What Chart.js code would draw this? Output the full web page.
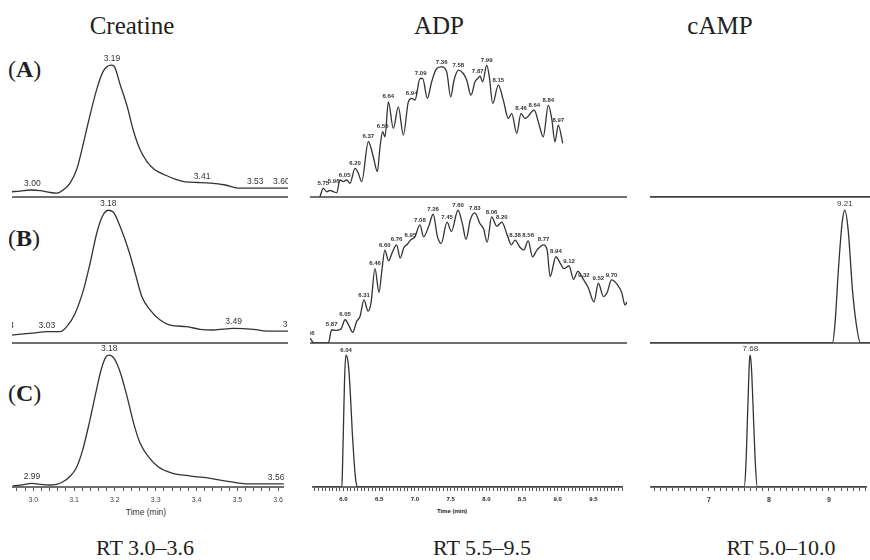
<!DOCTYPE html>
<html>
<head>
<meta charset="utf-8">
<script src="https://cdn.jsdelivr.net/npm/chart.js@4.4.1/dist/chart.umd.min.js"></script>
<style>
body { margin: 0; background: #fff; }
#fig { position: relative; width: 870px; height: 560px; overflow: hidden; background: #fff;
       font-family: "Liberation Serif", "Times New Roman", serif; color: #231f20; }
.panel { position: absolute; }
.txt { position: absolute; white-space: nowrap; line-height: 1; transform: translate(-50%, -50%); }
.head { font-size: 25px; }
.row { font-size: 24px; transform: translate(0, -50%); }
.rt { font-size: 22px; }
.axt { font-family: "Liberation Sans", Arial, sans-serif; font-size: 8.5px; color: #333; }
.axt.b { font-size: 6px; font-weight: bold; color: #222; }
</style>
</head>
<body>
<div id="fig">
  <div class="txt head" style="left:132px; top:25px;">Creatine</div>
  <div class="txt head" style="left:439px; top:25px;">ADP</div>
  <div class="txt head" style="left:720px; top:25px;">cAMP</div>

  <div class="txt row" style="left:8px; top:69px;">(<b>A</b>)</div>
  <div class="txt row" style="left:8px; top:238px;">(<b>B</b>)</div>
  <div class="txt row" style="left:8px; top:393px;">(<b>C</b>)</div>

  <div class="txt axt" style="left:146px; top:512px;">Time (min)</div>
  <div class="txt axt b" style="left:452px; top:511px;">Time (min)</div>

  <div class="txt rt" style="left:145px; top:548px;">RT 3.0–3.6</div>
  <div class="txt rt" style="left:482px; top:548px;">RT 5.5–9.5</div>
  <div class="txt rt" style="left:781px; top:548px;">RT 5.0–10.0</div>
</div>

<script>
// tick labels of the three time axes (min)
var creatineTicks = [3.0, 3.1, 3.2, 3.3, 3.4, 3.5, 3.6];
var adpTicks = [6.0, 6.5, 7.0, 7.5, 8.0, 8.5, 9.0, 9.5];
var campTicks = [7, 8, 9];

// traces: [time (min), relative intensity %]
var creatineA = [[2.949,4.0],[2.969,4.5],[2.993,5.3],[3.017,4.9],[3.041,3.4],[3.058,3.0],[3.072,5.3],
  [3.089,10.6],[3.106,22.0],[3.120,39.4],[3.137,62.1],[3.154,82.6],[3.169,95.5],[3.188,100],[3.195,99.2],
  [3.210,84.8],[3.227,68.2],[3.241,50.8],[3.258,35.6],[3.275,26.5],[3.294,20.5],[3.318,16.7],[3.342,13.6],
  [3.366,11.4],[3.398,11.0],[3.427,10.6],[3.463,9.1],[3.494,6.8],[3.523,6.8],[3.614,6.8]];
var creatineB = [[2.949,6.0],[2.977,6.8],[3.005,7.7],[3.033,8.5],[3.065,8.5],[3.081,12.3],[3.101,22.3],
  [3.121,39.8],[3.137,59.9],[3.153,82.5],[3.166,95.0],[3.181,100],[3.193,98.7],[3.210,87.4],[3.230,69.9],
  [3.246,52.4],[3.262,34.8],[3.282,24.8],[3.306,17.3],[3.330,13.5],[3.370,12.3],[3.402,10.3],[3.434,9.8],
  [3.483,11.0],[3.531,10.3],[3.563,9.0],[3.614,9.0]];
var creatineC = [[2.949,0.8],[2.969,1.5],[2.997,2.8],[3.017,2.0],[3.041,1.5],[3.057,2.0],[3.073,4.0],
  [3.089,7.8],[3.105,14.2],[3.121,28.0],[3.137,48.3],[3.153,71.0],[3.166,88.6],[3.178,98.7],[3.186,100],
  [3.198,97.5],[3.214,86.1],[3.230,68.4],[3.246,48.3],[3.262,33.1],[3.282,23.0],[3.306,15.4],[3.338,10.8],
  [3.386,8.3],[3.434,6.6],[3.482,4.0],[3.530,2.3],[3.614,2.3]];

var adpA = [[5.713,0.3],[5.758,6.6],[5.804,4.0],[5.850,5.0],[5.895,4.0],[5.941,3.3],[5.986,12.9],[6.032,11.6],
  [6.078,12.9],[6.123,10.4],[6.192,21.7],[6.237,18.0],[6.283,11.6],[6.374,41.9],[6.442,30.5],[6.497,19.2],
  [6.534,38.1],[6.570,49.5],[6.602,45.7],[6.648,72.2],[6.716,52.0],[6.784,68.4],[6.853,47.0],[6.921,72.2],
  [6.967,74.8],[7.012,73.5],[7.081,89.9],[7.117,89.9],[7.181,74.8],[7.240,87.4],[7.309,97.5],[7.377,98.7],
  [7.446,94.9],[7.500,76.0],[7.546,88.6],[7.605,96.2],[7.673,93.7],[7.720,88.6],[7.778,77.3],[7.833,87.4],
  [7.870,89.9],[7.902,91.7],[7.938,87.4],[7.993,100],[8.029,91.1],[8.075,71.0],[8.152,84.8],[8.220,73.5],
  [8.289,59.6],[8.335,63.4],[8.404,48.3],[8.462,63.4],[8.517,59.6],[8.644,65.9],[8.699,57.0],[8.767,45.7],
  [8.836,69.7],[8.882,59.6],[8.927,41.9],[8.972,54.5],[9.033,40.7]];
var adpB = [[5.576,3.7],[5.631,0],[5.827,0],[5.872,10],[5.940,9.5],[6.000,10.5],[6.055,17.5],[6.114,12.5],
  [6.160,8.0],[6.214,16.2],[6.260,20],[6.315,32.5],[6.370,24],[6.410,30],[6.465,56],[6.520,38],[6.560,55],
  [6.600,70],[6.650,62],[6.700,68],[6.760,74],[6.810,64],[6.860,72],[6.900,74],[6.950,77.5],[7.010,80],
  [7.080,89],[7.130,80],[7.200,88],[7.260,97],[7.320,80],[7.370,75],[7.450,91],[7.510,84],[7.600,100],
  [7.660,90],[7.710,78],[7.770,93],[7.830,98],[7.900,90],[7.950,86],[8.000,76],[8.060,95],[8.130,88],
  [8.200,91],[8.270,82],[8.330,74],[8.380,77.5],[8.450,72],[8.500,70],[8.560,77],[8.620,65],[8.680,70],
  [8.770,74],[8.820,70],[8.860,50],[8.940,65],[9.000,60],[9.050,56],[9.120,58],[9.180,48],[9.240,54],
  [9.320,47.5],[9.380,42],[9.460,31],[9.520,45],[9.590,35],[9.640,38],[9.700,47.5],[9.780,44],[9.840,38],
  [9.885,28.7],[9.912,31]];
var adpC = [[5.576,0],[5.977,0],[5.986,16],[6.000,48.6],[6.014,81],[6.032,100],[6.059,96.2],[6.078,86.2],
  [6.100,66],[6.123,41],[6.146,21],[6.169,6],[6.200,0],[9.912,0]];

var campA = [[6.037,0],[9.626,0]];
var campB = [[6.037,0],[9.012,0],[9.056,15],[9.110,55],[9.170,90],[9.215,100],[9.270,85],[9.340,40],
  [9.400,15],[9.470,0],[9.626,0]];
var campC = [[6.037,0],[7.587,0],[7.615,16],[7.648,61],[7.675,96],[7.690,100],[7.713,86],[7.745,49],
  [7.775,16],[7.805,0],[9.626,0]];

// peak retention-time labels: [time, intensity, text]
var creatineALabels = [[2.998,5.3,'3.00'],[3.190,100,'3.19'],[3.407,10.9,'3.41'],[3.535,6.8,'3.53'],[3.598,6.8,'3.60']];
var creatineBLabels = [[2.934,8,'2.94'],[3.033,8.5,'3.03'],[3.181,100,'3.18'],[3.483,11.0,'3.49'],[3.621,9.0,'3.62']];
var creatineCLabels = [[2.997,2.8,'2.99'],[3.186,100,'3.18'],[3.595,2.3,'3.56']];
var adpALabels = [[5.758,6.6,'5.75'],[5.900,8,'5.96'],[6.050,12.9,'6.05'],[6.192,21.7,'6.20'],[6.374,41.9,'6.37'],
  [6.570,49.5,'6.55'],[6.648,72.2,'6.64'],[6.967,74.8,'6.94'],[7.090,89.9,'7.09'],[7.377,98.7,'7.36'],
  [7.605,96.2,'7.58'],[7.870,91.7,'7.87'],[7.993,100,'7.99'],[8.152,84.8,'8.15'],[8.462,63.4,'8.46'],
  [8.644,65.9,'8.64'],[8.836,69.7,'8.84'],[8.972,54.5,'8.97']];
var adpBLabels = [[5.560,3.7,'5.56'],[5.872,10,'5.87'],[6.055,17.5,'6.05'],[6.315,32.5,'6.31'],[6.465,56,'6.46'],
  [6.600,70,'6.60'],[6.760,74,'6.76'],[6.950,77.5,'6.95'],[7.080,89,'7.08'],[7.260,97,'7.26'],[7.450,91,'7.45'],
  [7.600,100,'7.60'],[7.830,98,'7.83'],[8.060,95,'8.06'],[8.200,91,'8.20'],[8.380,77.5,'8.38'],[8.560,77,'8.56'],
  [8.770,74,'8.77'],[8.940,65,'8.94'],[9.120,58,'9.12'],[9.320,47.5,'9.32'],[9.520,45,'9.52'],[9.700,47.5,'9.70']];
var adpCLabels = [[6.035,100,'6.04']];
var campALabels = [];
var campBLabels = [[9.215,100,'9.21']];
var campCLabels = [[7.690,100,'7.68']];

var fig = document.getElementById('fig');
var sans = '"Liberation Sans", Arial, sans-serif';

function minorTicks(min, max, step) {
  var out = [];
  for (var k = Math.ceil(min / step - 1e-9); k * step <= max + 1e-9; k++) {
    out.push(Math.round(k * step * 1000) / 1000);
  }
  return out;
}

function labelPlugin(items, font) {
  return {
    id: 'peakLabels',
    afterDatasetsDraw: function(chart) {
      var ctx = chart.ctx, a = chart.chartArea;
      ctx.save();
      ctx.beginPath();
      ctx.rect(a.left, 0, a.right - a.left, chart.height);
      ctx.clip();
      ctx.font = font;
      ctx.fillStyle = '#333';
      ctx.textAlign = 'center';
      ctx.textBaseline = 'bottom';
      items.forEach(function(it) {
        var x = chart.scales.x.getPixelForValue(it[0]);
        var y = chart.scales.y.getPixelForValue(it[1]) - 2;
        ctx.fillText(it[2], x, y);
      });
      ctx.restore();
    }
  };
}

function panel(cfg) {
  var box = document.createElement('div');
  box.className = 'panel';
  box.style.left = cfg.left + 'px';
  box.style.top = cfg.top + 'px';
  box.style.width = cfg.width + 'px';
  box.style.height = cfg.height + 'px';
  var canvas = document.createElement('canvas');
  box.appendChild(canvas);
  fig.appendChild(box);
  var bottom = !!cfg.ticks;

  return new Chart(canvas, {
    type: 'line',
    data: {
      datasets: [{
        data: cfg.trace.map(function(p) { return { x: p[0], y: p[1] }; }),
        borderColor: '#333',
        borderWidth: 1.3,
        pointRadius: 0,
        fill: false,
        cubicInterpolationMode: 'monotone'
      }]
    },
    options: {
      responsive: true,
      maintainAspectRatio: false,
      animation: false,
      layout: { padding: { left: 0, right: 0, top: 0, bottom: bottom ? 0 : 3 } },
      plugins: { legend: { display: false }, tooltip: { enabled: false } },
      scales: {
        x: {
          type: 'linear',
          min: cfg.min,
          max: cfg.max,
          afterBuildTicks: function(s) {
            if (bottom) s.ticks = minorTicks(cfg.min, cfg.max, cfg.step).map(function(v) { return { value: v }; });
          },
          afterFit: function(s) { s.height = bottom ? 32 : 0; },
          ticks: {
            display: bottom,
            autoSkip: false,
            maxRotation: 0,
            padding: 5,
            color: cfg.tickColor || '#444',
            font: cfg.tickFont,
            callback: function(v) {
              if (!bottom) return '';
              for (var i = 0; i < cfg.ticks.length; i++) {
                if (Math.abs(cfg.ticks[i] - v) < 1e-6) return cfg.ticks[i].toFixed(cfg.dec);
              }
              return '';
            }
          },
          grid: { display: bottom, drawOnChartArea: false, drawTicks: bottom, tickLength: 4, tickColor: '#555', tickWidth: 1 },
          border: { display: true, color: '#707070', width: 2 }
        },
        y: { display: false, min: 0, max: 110 }
      }
    },
    plugins: [labelPlugin(cfg.labels, cfg.labelFont)]
  });
}

var rows = [
  { top: 52, height: 148 },
  { top: 197, height: 149 },
  { top: 342, height: 177 }
];
var cols = [
  { left: 12, width: 276, min: 2.949, max: 3.614, step: 0.02, dec: 1,
    traces: [creatineA, creatineB, creatineC], labels: [creatineALabels, creatineBLabels, creatineCLabels],
    ticks: creatineTicks, labelFont: '8.5px ' + sans, tickFont: { family: sans, size: 7 }, tickColor: '#444' },
  { left: 310, width: 317, min: 5.576, max: 9.912, step: 0.05, dec: 1,
    traces: [adpA, adpB, adpC], labels: [adpALabels, adpBLabels, adpCLabels],
    ticks: adpTicks, labelFont: 'bold 6px ' + sans, tickFont: { family: sans, size: 6, weight: 'bold' }, tickColor: '#222' },
  { left: 650, width: 220, min: 6.037, max: 9.626, step: 0.1, dec: 0,
    traces: [campA, campB, campC], labels: [campALabels, campBLabels, campCLabels],
    ticks: campTicks, labelFont: '8px ' + sans, tickFont: { family: sans, size: 7, weight: 'bold' }, tickColor: '#333' }
];

cols.forEach(function(c) {
  rows.forEach(function(r, i) {
    panel({
      left: c.left, width: c.width, top: r.top, height: r.height,
      min: c.min, max: c.max, step: c.step, dec: c.dec,
      trace: c.traces[i], labels: c.labels[i], labelFont: c.labelFont,
      ticks: i === 2 ? c.ticks : null, tickFont: c.tickFont, tickColor: c.tickColor
    });
  });
});
</script>
</body>
</html>
